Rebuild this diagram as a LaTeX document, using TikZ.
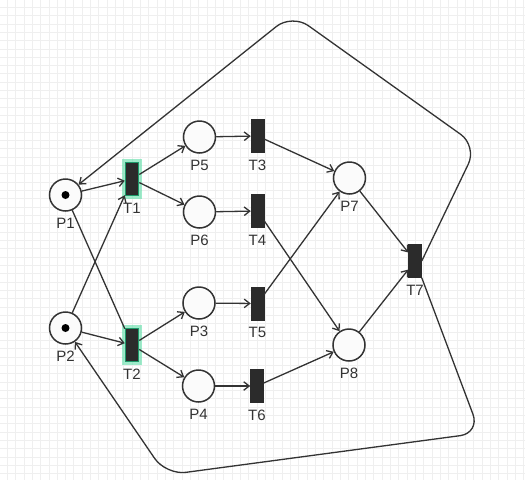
\documentclass[tikz,border=0pt]{standalone}
\usepackage{fontspec}
\setmainfont{Liberation Sans}
\usetikzlibrary{arrows.meta,calc}
\definecolor{ink}{HTML}{333333}
\definecolor{tfill}{HTML}{2B2B2B}
\definecolor{glow}{HTML}{4FDCA0}
\definecolor{glowedge}{HTML}{1E9A6A}
\definecolor{gridc}{HTML}{EFEFEF}
\definecolor{pfill}{HTML}{FBFBFB}
\tikzset{
 place/.style={circle, draw=ink, fill=pfill, line width=1.5pt, minimum size=32pt, inner sep=0pt},
 trans/.style={rectangle, fill=tfill, draw=tfill, line width=0.5pt, minimum width=13pt, minimum height=33pt, inner sep=0pt},
 hot/.style={draw=glowedge, line width=1.5pt, preaction={draw=glow, line width=7pt, opacity=0.55}},
 lbl/.style={text=ink, font=\fontsize{15}{15}\selectfont, inner sep=0pt},
 arc/.style={draw=ink, line width=1.3pt, -{Straight Barb[length=5.5pt,width=8.5pt,line width=1.3pt]}},
 plainarc/.style={draw=ink, line width=1.3pt},
 gridline/.style={draw=gridc, line width=0.9pt},
 token/.style={circle, fill=black, minimum size=8pt, inner sep=0pt},
}
\begin{document}
\begin{tikzpicture}[x=1pt,y=-1pt]
\useasboundingbox (0,0) rectangle (525,480);
\fill[white] (0,0) rectangle (525,480);
\foreach \i in {0,...,62} \draw[gridline] ({7.3+8.33*\i},0) -- ({7.3+8.33*\i},480);
\foreach \i in {0,...,57} \draw[gridline] (0,{7.3+8.33*\i}) -- (525,{7.3+8.33*\i});

% places
\node[place] (P1) at (65.5,195) {};
\node[place] (P2) at (65.5,328) {};
\node[place] (P5) at (199.5,137) {};
\node[place] (P6) at (199.5,212) {};
\node[place] (P3) at (199,303) {};
\node[place] (P4) at (198.5,386) {};
\node[place] (P7) at (349.5,178) {};
\node[place] (P8) at (349,345) {};
\node[token] (P1t) at (P1) {};
\node[token] (P2t) at (P2) {};

% transitions
\node[trans,hot] (T1) at (132,179) {};
\node[trans,hot] (T2) at (132,345) {};
\node[trans] (T3) at (257.5,136) {};
\node[trans] (T4) at (257.5,211) {};
\node[trans] (T5) at (257.5,303.5) {};
\node[trans] (T6) at (257,386) {};
\node[trans] (T7) at (415,261) {};

% labels
\node[lbl] (P1l) at (65.5,223) {P1};
\node[lbl] (P2l) at (65.5,356) {P2};
\node[lbl] (P5l) at (199.5,165) {P5};
\node[lbl] (P6l) at (199.5,240) {P6};
\node[lbl] (P3l) at (199,331) {P3};
\node[lbl] (P4l) at (198.5,414) {P4};
\node[lbl] (P7l) at (349.5,206) {P7};
\node[lbl] (P8l) at (349,373) {P8};
\node[lbl] (T1l) at (132,208) {T1};
\node[lbl] (T2l) at (132,374) {T2};
\node[lbl] (T3l) at (257.5,165) {T3};
\node[lbl] (T4l) at (257.5,240) {T4};
\node[lbl] (T5l) at (257.5,332) {T5};
\node[lbl] (T6l) at (257,415) {T6};
\node[lbl] (T7l) at (415,290) {T7};

% arcs
\draw[arc] (P1) -- (T1);
\draw[arc] (P2) -- (T1);
\draw[plainarc] (P1) -- (T2);
\draw[arc] (P2) -- (T2);
\draw[arc] (T1) -- (P5);
\draw[arc] (T1) -- (P6);
\draw[arc] (T2) -- (P3);
\draw[arc] (T2) -- (P4);
\draw[arc] (P5) -- (T3);
\draw[arc] (P6) -- (T4);
\draw[arc] (P3) -- (T5);
\draw[arc] (P4) -- (T6);
\draw[arc] (T3) -- (P7);
\draw[arc] (T5) -- (P7);
\draw[arc] (T4) -- (P8);
\draw[arc] (T6) -- (P8);
\draw[arc] (P7) -- (T7);
\draw[arc] (P8) -- (T7);

% feedback loops
\draw[arc, rounded corners=20pt] (T7.east) -- (477,146) -- (292,14) -- (P1);
\draw[arc, rounded corners=20pt] (T7.south east) -- (480,433) -- (166,475) -- (P2);
\end{tikzpicture}
\end{document}
